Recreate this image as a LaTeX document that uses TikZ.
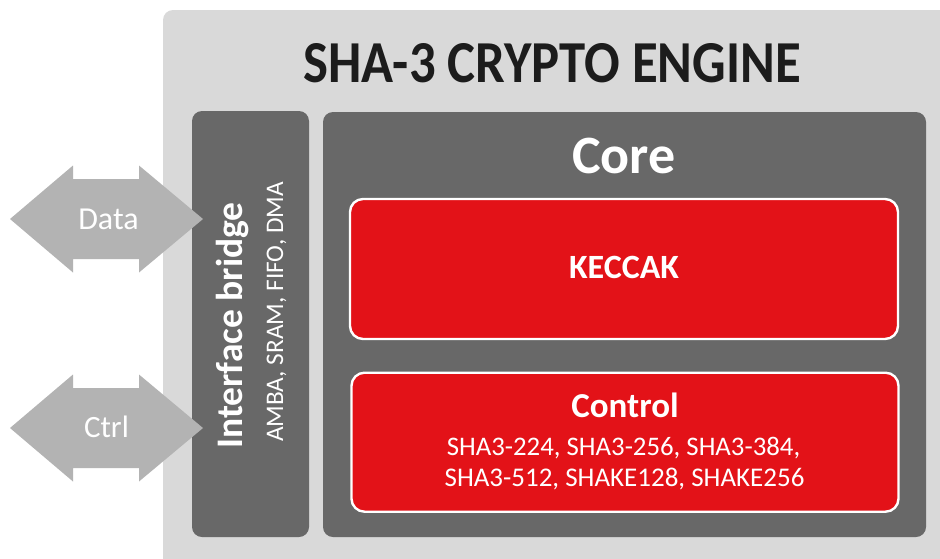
\documentclass[tikz,border=0pt]{standalone}
\usepackage{fontspec}
\setmainfont{Carlito}
\definecolor{outergray}{HTML}{D9D9D9}
\definecolor{darkbox}{HTML}{686868}
\definecolor{arrowgray}{HTML}{B3B3B3}
\definecolor{redbox}{HTML}{E31218}
\definecolor{titleblack}{HTML}{1C1C1C}
\newcommand{\fsz}[1]{\fontsize{#1}{#1}\selectfont}
\begin{document}
\begin{tikzpicture}[x=1pt,y=-1pt,
  box/.style={rectangle, inner sep=0pt, outer sep=0pt},
  outerbox/.style={box, fill=outergray, rounded corners=10pt},
  graybox/.style={box, fill=darkbox, rounded corners=10pt},
  redblock/.style={box, fill=redbox, draw=white, line width=2.4pt, rounded corners=13pt},
  lbl/.style={inner sep=0pt, outer sep=0pt, anchor=base, text=white},
  pics/dblarrow/.style={code={
    \fill[arrowgray] (10,0) -- (73,-53.5) -- (73,-40) -- (139,-40) -- (139,-53.5)
      -- (203,0) -- (139,53.5) -- (139,40) -- (73,40) -- (73,53.5) -- cycle;
  }}
]
\clip (0,0) rectangle (940,558);
\node[outerbox, minimum width=817pt, minimum height=590pt] (engine) at (571.5,305) {};
\node[graybox, minimum width=117pt, minimum height=426pt] (bridge) at (250.5,324) {};
\node[graybox, minimum width=603pt, minimum height=425pt] (core) at (624.5,324.5) {};
\pic at (0,219) {dblarrow};
\pic at (0,428) {dblarrow};
\node[redblock, minimum width=548pt, minimum height=140pt] (keccak) at (624,269) {};
\node[redblock, minimum width=547pt, minimum height=139pt] (control) at (625,442.2) {};

\node[lbl, text=titleblack, font=\fsz{59.5}\bfseries, xscale=0.887] (title) at (552,82.7) {SHA-3 CRYPTO ENGINE};
\node[lbl, font=\fsz{54}\bfseries] (coret) at (624,173) {Core};
\node[lbl, font=\fsz{34}\bfseries] (keccakt) at (624,278.3) {KECCAK};
\node[lbl, font=\fsz{35}\bfseries] (controlt) at (625,417) {Control};
\node[lbl, font=\fsz{26.8}] (algs1) at (623.5,455.7) {SHA3-224, SHA3-256, SHA3-384,};
\node[lbl, font=\fsz{27}] (algs2) at (624.5,486) {SHA3-512, SHAKE128, SHAKE256};
\node[lbl, rotate=90, font=\fsz{37.5}\bfseries] (bridget) at (242.5,325.5) {Interface bridge};
\node[lbl, rotate=90, font=\fsz{25.3}] (bridgesub) at (283,312) {AMBA, SRAM, FIFO, DMA};
\node[lbl, font=\fsz{32}] (datat) at (108.5,229) {Data};
\node[lbl, font=\fsz{31}] (ctrlt) at (106.5,437) {Ctrl};
\end{tikzpicture}
\end{document}
